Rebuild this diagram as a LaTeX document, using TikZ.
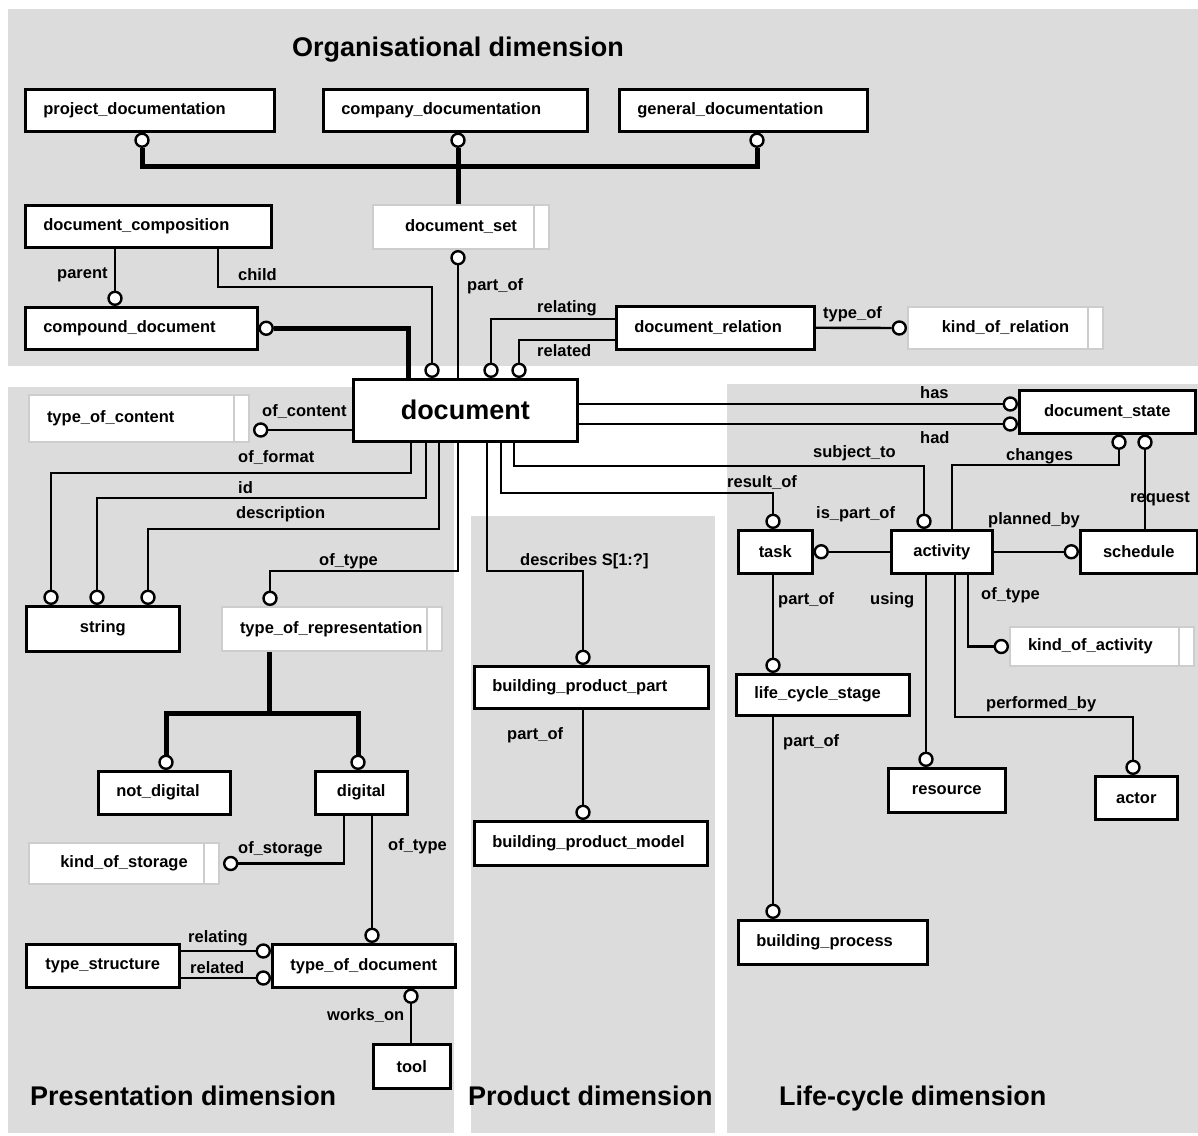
\documentclass[tikz,border=0pt]{standalone}
\usepackage{fontspec}
\setmainfont{Liberation Sans}
\definecolor{bgdim}{RGB}{220,220,220}
\definecolor{typeedge}{RGB}{205,205,205}
\hyphenpenalty=10000
\exhyphenpenalty=10000

\begin{document}
\begin{tikzpicture}[x=1pt, y=-1pt,
  font=\fontsize{16.5}{18}\selectfont\bfseries,
  ent/.style={draw, line width=2.5pt, fill=white, anchor=north west,
    inner xsep=18pt, inner ysep=0pt, align=left},
  dtype/.style={draw=typeedge, line width=2pt, fill=white, anchor=north west,
    inner xsep=18pt, inner ysep=0pt, align=left,
    path picture={\draw[typeedge, line width=2pt]
      ([xshift=-15pt]path picture bounding box.north east) --
      ([xshift=-15pt]path picture bounding box.south east);}},
  ring/.style={circle, draw, fill=white, line width=2.4pt, inner sep=0pt, minimum size=13pt},
  rel/.style={line width=2.4pt},
  sup/.style={line width=5pt},
  lbl/.style={anchor=west, inner sep=0pt},
  dimtitle/.style={anchor=base west, inner sep=0pt, font=\fontsize{27}{30}\selectfont\bfseries}]

\useasboundingbox (0,0) rectangle (1198,1135);

% Dimensions
\fill[bgdim] (8,9) rectangle (1198,366);
\fill[bgdim] (8,387) rectangle (454,1133);
\fill[bgdim] (471,516) rectangle (715,1133);
\fill[bgdim] (727,384) rectangle (1198,1133);

\node[dimtitle] (tOrg) at (292,56) {Organisational dimension};
\node[dimtitle] (tPres) at (30,1105) {Presentation dimension};
\node[dimtitle] (tProd) at (468,1105) {Product dimension};
\node[dimtitle] (tLife) at (779,1105) {Life-cycle dimension};

% Entities
\node[ent, text width=213pt, minimum height=42pt] (projdoc) at (24,88) {project\_documentation};
\node[ent, text width=228pt, minimum height=42pt] (compdoc) at (322,88) {company\_documentation};
\node[ent, text width=212pt, minimum height=42pt] (gendoc) at (618,88) {general\_documentation};
\node[dtype, minimum width=176pt, minimum height=44pt, align=center] (docset) at (372,204) {document\_set};
\node[ent, text width=210pt, minimum height=42pt] (doccomp) at (24,204) {document\_composition};
\node[ent, text width=196pt, minimum height=42pt] (compound) at (24,306) {compound\_document};
\node[ent, text width=162pt, minimum height=43pt] (docrel) at (615,305) {document\_relation};
\node[dtype, minimum width=195pt, minimum height=42pt, align=center] (kindrel) at (907,306) {kind\_of\_relation};

\node[ent, minimum width=224pt, minimum height=62pt, align=center,
  font=\fontsize{27}{30}\selectfont\bfseries] (doc) at (352,378) {document};

\node[dtype, text width=184pt, minimum height=47pt] (typecontent) at (28,394) {type\_of\_content};
\node[ent, minimum width=153pt, minimum height=45pt, align=center] (str) at (25,605) {string};
\node[dtype, text width=184pt, minimum height=44pt] (typerep) at (221,606) {type\_of\_representation};
\node[ent, text width=96pt, minimum height=43pt] (notdig) at (97,770) {not\_digital};
\node[ent, minimum width=92pt, minimum height=43pt, align=center] (digital) at (314,770) {digital};
\node[dtype, minimum width=190pt, minimum height=41pt, align=center] (kindstor) at (28,842) {kind\_of\_storage};
\node[ent, minimum width=153pt, minimum height=43pt, align=center] (typestruct) at (25,943) {type\_structure};
\node[ent, minimum width=183pt, minimum height=43pt, align=center] (typedoc) at (271,943) {type\_of\_document};
\node[ent, minimum width=77pt, minimum height=44pt, align=center] (tool) at (372,1043) {tool};

\node[ent, text width=198pt, minimum height=42pt] (bpp) at (473,665) {building\_product\_part};
\node[ent, text width=197pt, minimum height=44pt] (bpm) at (473,820) {building\_product\_model};

\node[ent, minimum width=176pt, minimum height=43pt, align=center] (docstate) at (1018,389) {document\_state};
\node[ent, minimum width=74pt, minimum height=43pt, align=center] (task) at (737,529) {task};
\node[ent, minimum width=101pt, minimum height=43pt, align=center] (activity) at (890,529) {activity};
\node[ent, minimum width=117pt, minimum height=43pt, align=center] (schedule) at (1079,529) {schedule};
\node[dtype, text width=148pt, minimum height=39pt] (kindact) at (1009,626) {kind\_of\_activity};
\node[ent, text width=137pt, minimum height=41pt] (lcs) at (735,673) {life\_cycle\_stage};
\node[ent, minimum width=117pt, minimum height=44pt, align=center] (resource) at (887,767) {resource};
\node[ent, minimum width=82pt, minimum height=43pt, align=center] (actor) at (1094,775) {actor};
\node[ent, text width=153pt, minimum height=44pt] (bproc) at (737,919) {building\_process};

% Rings
\node[ring, anchor=north] (rProj) at (projdoc.south -| 142,0) {};
\node[ring, anchor=north] (rComp) at (compdoc.south -| 458,0) {};
\node[ring, anchor=north] (rGen) at (gendoc.south -| 757,0) {};
\node[ring, anchor=south] (rParent) at (compound.north -| 115,0) {};
\node[ring, anchor=west] (rCompound) at (compound.east) {};
\node[ring, anchor=north] (rPartof) at (docset.south -| 458,0) {};
\node[ring, anchor=south] (rChild) at (doc.north -| 432,0) {};
\node[ring, anchor=south] (rRelating) at (doc.north -| 491,0) {};
\node[ring, anchor=south] (rRelated) at (doc.north -| 519,0) {};
\node[ring, anchor=east] (rTypeof) at (kindrel.west) {};

\node[ring, anchor=west] (rContent) at ([xshift=3pt]typecontent.east |- 0,430) {};
\node[ring, anchor=south] (rS1) at (str.north -| 51,0) {};
\node[ring, anchor=south] (rS2) at (str.north -| 97,0) {};
\node[ring, anchor=south] (rS3) at (str.north -| 148,0) {};
\node[ring, anchor=south] (rRep) at (typerep.north -| 270,0) {};
\node[ring, anchor=south] (rNotdig) at (notdig.north -| 166,0) {};
\node[ring, anchor=south] (rDig) at (digital.north -| 358,0) {};
\node[ring, anchor=west] (rStor) at ([xshift=3pt]kindstor.east) {};
\node[ring, anchor=south] (rTdoc) at (typedoc.north -| 372,0) {};
\node[ring, anchor=east] (rRelts) at (typedoc.west |- 0,951) {};
\node[ring, anchor=east] (rReldts) at (typedoc.west |- 0,978) {};
\node[ring, anchor=north] (rTool) at (typedoc.south -| 411,0) {};

\node[ring, anchor=south] (rBpp) at (bpp.north -| 583,0) {};
\node[ring, anchor=south] (rBpm) at (bpm.north -| 583,0) {};

\node[ring, anchor=east] (rHas) at (docstate.west |- 0,404) {};
\node[ring, anchor=east] (rHad) at (docstate.west |- 0,424) {};
\node[ring, anchor=north] (rChg) at (docstate.south -| 1119,0) {};
\node[ring, anchor=north] (rReq) at (docstate.south -| 1145,0) {};
\node[ring, anchor=south] (rTask) at (task.north -| 773,0) {};
\node[ring, anchor=south] (rSubj) at (activity.north -| 924,0) {};
\node[ring, anchor=west] (rIspart) at (task.east) {};
\node[ring, anchor=east] (rSched) at (schedule.west) {};
\node[ring, anchor=east] (rKact) at (kindact.west) {};
\node[ring, anchor=south] (rLcs) at (lcs.north -| 773,0) {};
\node[ring, anchor=south] (rRes) at (resource.north -| 926,0) {};
\node[ring, anchor=south] (rActor) at (actor.north -| 1133,0) {};
\node[ring, anchor=south] (rBproc) at (bproc.north -| 773,0) {};

\coordinate (setfork) at (458,166);
\coordinate (repfork) at (269,713);

% Subtype trees
\draw[sup] (rProj) |- (setfork) -| (rGen);
\draw[sup] (docset.north -| rComp) -- (rComp);
\draw[sup] (rCompound) -| (doc.north -| 408,0);
\draw[sup] (typerep.south -| repfork) -- (repfork);
\draw[sup] (rNotdig) |- (repfork) -| (rDig);

% Attributes
\draw[rel] (doccomp.south -| 115,0) -- (rParent);
\draw[rel] (doccomp.south -| 218,0) |- (rChild |- 0,287) -- (rChild);
\draw[rel] (rPartof) -- (doc.north -| rPartof);
\draw[rel] (docrel.west |- 0,319) -| (rRelating);
\draw[rel] (docrel.west |- 0,340) -| (rRelated);
\draw[rel] (docrel.east) -- (rTypeof);

\draw[rel] (doc.west |- rContent) -- (rContent);
\draw[rel] (doc.south -| 411,0) |- (rS1 |- 0,473) -- (rS1);
\draw[rel] (doc.south -| 426,0) |- (rS2 |- 0,498) -- (rS2);
\draw[rel] (doc.south -| 439,0) |- (rS3 |- 0,529) -- (rS3);
\draw[rel] (doc.south -| 458,0) |- (rRep |- 0,571) -- (rRep);
\draw[rel] (digital.south -| 344,0) |- (rStor);
\draw[rel] (digital.south -| rTdoc) -- (rTdoc);
\draw[rel] (typestruct.east |- rRelts) -- (rRelts);
\draw[rel] (typestruct.east |- rReldts) -- (rReldts);
\draw[rel] (rTool) -- (tool.north -| rTool);

\draw[rel] (doc.south -| 487,0) |- (rBpp |- 0,571) -- (rBpp);
\draw[rel] (bpp.south -| rBpm) -- (rBpm);

\draw[rel] (doc.east |- rHas) -- (rHas);
\draw[rel] (doc.east |- rHad) -- (rHad);
\draw[rel] (doc.south -| 501,0) |- (rTask |- 0,493) -- (rTask);
\draw[rel] (doc.south -| 514,0) |- (rSubj |- 0,466) -- (rSubj);
\draw[rel] (rChg) -- (rChg |- 0,465) -| (activity.north -| 952,0);
\draw[rel] (rReq) -- (schedule.north -| rReq);
\draw[rel] (activity.west |- rIspart) -- (rIspart);
\draw[rel] (activity.east |- rSched) -- (rSched);
\draw[rel] (activity.south -| 968,0) |- (rKact);
\draw[rel] (activity.south -| rRes) -- (rRes);
\draw[rel] (activity.south -| 955,0) |- (rActor |- 0,717) -- (rActor);
\draw[rel] (task.south -| rLcs) -- (rLcs);
\draw[rel] (lcs.south -| rBproc) -- (rBproc);

% Labels
\node[lbl] (lParent) at (57,275) {parent};
\node[lbl] (lChild) at (238,275) {child};
\node[lbl] (lPartofSet) at (467,286) {part\_of};
\node[lbl] (lRelating) at (537,308) {relating};
\node[lbl] (lRelated) at (537,351) {related};
\node[lbl] (lTypeof) at (823,314) {type\_of};
\node[lbl] (lContent) at (262,412) {of\_content};
\node[lbl] (lFormat) at (238,458) {of\_format};
\node[lbl] (lId) at (238,488) {id};
\node[lbl] (lDescr) at (236,514) {description};
\node[lbl] (lOftype) at (319,561) {of\_type};
\node[lbl] (lDescribes) at (520,561) {describes S[1:?]};
\node[lbl] (lHas) at (920,393) {has};
\node[lbl] (lHad) at (920,438) {had};
\node[lbl] (lSubject) at (813,453) {subject\_to};
\node[lbl] (lChanges) at (1006,456) {changes};
\node[lbl] (lResult) at (727,483) {result\_of};
\node[lbl] (lRequest) at (1130,499) {request};
\node[lbl] (lIspart) at (816,514) {is\_part\_of};
\node[lbl] (lPlanned) at (988,520) {planned\_by};
\node[lbl] (lPartofTask) at (778,600) {part\_of};
\node[lbl] (lUsing) at (870,600) {using};
\node[lbl] (lOftypeAct) at (981,595) {of\_type};
\node[lbl] (lPartofBp) at (507,735) {part\_of};
\node[lbl] (lPerformed) at (986,704) {performed\_by};
\node[lbl] (lPartofLcs) at (783,742) {part\_of};
\node[lbl] (lStorage) at (238,849) {of\_storage};
\node[lbl] (lOftypeDig) at (388,846) {of\_type};
\node[lbl] (lRelatingTs) at (188,938) {relating};
\node[lbl] (lRelatedTs) at (190,968) {related};
\node[lbl] (lWorks) at (327,1016) {works\_on};

\end{tikzpicture}
\end{document}
